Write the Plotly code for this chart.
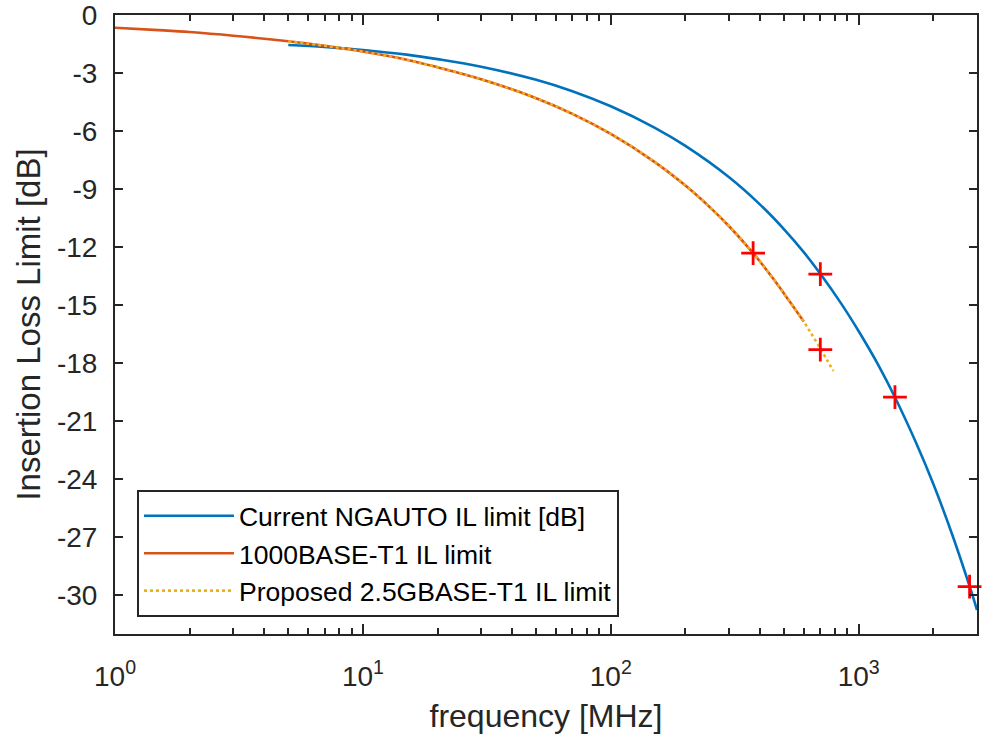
import plotly.graph_objects as go

# Current NGAUTO IL limit
ngauto_f = [5, 7, 10, 15, 20, 30, 50, 70, 100, 150, 200, 300, 400, 500, 600, 700,
            850, 1000, 1200, 1400, 1700, 2000, 2400, 2800, 3000]
ngauto_il = [-1.55, -1.65, -1.81, -2.05, -2.28, -2.67, -3.35, -3.94, -4.72, -5.82,
             -6.77, -8.39, -9.80, -11.08, -12.26, -13.38, -14.92, -16.35, -18.10,
             -19.76, -22.09, -24.25, -26.97, -29.53, -30.76]

# 1000BASE-T1 IL limit
t1_f = [1, 1.5, 2, 3, 5, 7, 10, 15, 20, 30, 50, 70, 100, 150, 200, 250, 300, 375,
        450, 525, 600]
t1_il = [-0.66, -0.78, -0.88, -1.07, -1.36, -1.59, -1.89, -2.31, -2.70, -3.32, -4.30,
         -5.11, -6.15, -7.59, -8.82, -9.92, -10.92, -12.31, -13.60, -14.79, -15.85]

# Proposed 2.5GBASE-T1 IL limit
g25_f = [5, 7, 10, 15, 20, 30, 50, 70, 100, 150, 200, 250, 300, 375, 450, 525, 600,
         650, 700, 750, 790]
g25_il = [-1.36, -1.59, -1.89, -2.31, -2.70, -3.32, -4.30, -5.11, -6.15, -7.59, -8.82,
          -9.92, -10.92, -12.31, -13.60, -14.79, -15.85, -16.56, -17.24, -17.90, -18.40]

# Marked points
mark_f = [375, 700, 700, 1400, 2800]
mark_il = [-12.31, -13.40, -17.30, -19.75, -29.55]

xtick_vals = [1, 10, 100, 1000]
xtick_text = ["10<sup>0</sup>", "10<sup>1</sup>", "10<sup>2</sup>", "10<sup>3</sup>"]
ytick_vals = [0, -3, -6, -9, -12, -15, -18, -21, -24, -27, -30]
ytick_text = ["0", "-3", "-6", "-9", "-12", "-15", "-18", "-21", "-24", "-27", "-30"]
minor_x = [2, 3, 4, 5, 6, 7, 8, 9, 20, 30, 40, 50, 60, 70, 80, 90,
           200, 300, 400, 500, 600, 700, 800, 900, 2000]

AX = "#262626"
FONT = "Arial, Liberation Sans, sans-serif"

fig = go.Figure()
fig.add_trace(go.Scatter(x=ngauto_f, y=ngauto_il, mode="lines", line_shape="spline",
                         name="Current NGAUTO IL limit [dB]",
                         line=dict(color="#0072BD", width=2.6)))
fig.add_trace(go.Scatter(x=t1_f, y=t1_il, mode="lines", line_shape="spline",
                         name="1000BASE-T1 IL limit",
                         line=dict(color="#D95319", width=2.6)))
fig.add_trace(go.Scatter(x=g25_f, y=g25_il, mode="lines", line_shape="spline",
                         name="Proposed 2.5GBASE-T1 IL limit",
                         line=dict(color="#EDB120", width=2.6, dash="dot")))
fig.add_trace(go.Scatter(x=mark_f, y=mark_il, mode="markers", showlegend=False,
                         cliponaxis=False,
                         marker=dict(symbol="cross-thin", size=17, color="red",
                                     line=dict(color="red", width=2.8))))

fig.update_layout(
    width=982, height=734,
    margin=dict(l=115, r=5, t=15, b=100, autoexpand=False),
    paper_bgcolor="white", plot_bgcolor="white",
    font=dict(family=FONT, color=AX, size=28),
    showlegend=True,
    legend=dict(x=0.0255, y=0.2326, xanchor="left", yanchor="top",
                bgcolor="white", bordercolor=AX, borderwidth=2,
                font=dict(family=FONT, size=26.5, color="black"),
                itemwidth=90, tracegroupgap=0),
)
fig.update_xaxes(
    type="log", range=[0, 3.4771], automargin=False,
    tickmode="array", tickvals=xtick_vals, ticktext=xtick_text,
    ticks="inside", ticklen=10, tickwidth=2, tickcolor=AX,
    showline=True, linecolor=AX, linewidth=2, mirror="ticks",
    showgrid=False, zeroline=False,
    ticklabelstandoff=16, ticklabeloverflow="allow",
    tickfont=dict(size=28, family=FONT, color=AX),
    minor=dict(tickmode="array", tickvals=minor_x, ticks="inside", ticklen=6,
               tickwidth=2, tickcolor=AX, showgrid=False),
    title=dict(text="frequency [MHz]", font=dict(size=32, family=FONT, color=AX),
               standoff=25),
)
fig.update_yaxes(
    range=[-32, 0], automargin=False,
    tickmode="array", tickvals=ytick_vals, ticktext=ytick_text,
    ticks="inside", ticklen=8, tickwidth=2, tickcolor=AX,
    showline=True, linecolor=AX, linewidth=2, mirror="ticks",
    showgrid=False, zeroline=False,
    ticklabelstandoff=10, ticklabeloverflow="allow",
    tickfont=dict(size=28, family=FONT, color=AX),
    title=dict(text="Insertion Loss Limit [dB]", font=dict(size=33, family=FONT, color=AX),
               standoff=6),
)

fig.write_html("out.html", config={"displayModeBar": False},
               post_script="document.body.style.margin='0';")
